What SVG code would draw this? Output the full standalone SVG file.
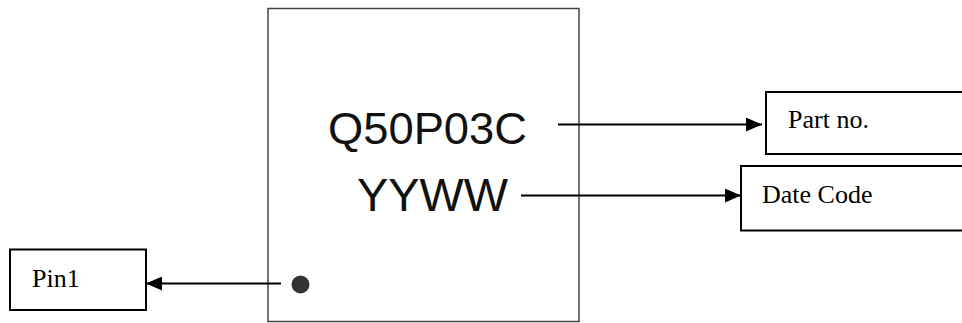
<svg xmlns="http://www.w3.org/2000/svg" width="962" height="323" viewBox="0 0 962 323">
<style>
.box{fill:#fff;stroke:#000;stroke-width:2}
.lbl{font-family:"Liberation Serif","Times New Roman",serif;font-size:26px;fill:#000}
.mark{font-family:"Liberation Sans",Arial,sans-serif;fill:#111}
.conn{stroke:#000;stroke-width:2.2;fill:none}
</style>
<defs>
<marker id="ah" viewBox="0 0 16 14" refX="16" refY="7" markerWidth="16" markerHeight="14" markerUnits="userSpaceOnUse" orient="auto">
<path d="M0,0 L16,7 L0,14 Z" fill="#000"/>
</marker>
</defs>
<rect width="962" height="323" fill="#fff"/>
<g id="chip">
<rect x="268" y="8.5" width="311" height="313" fill="#fff" stroke="#444" stroke-width="1.5"/>
<text class="mark" x="328" y="143.5" font-size="45" textLength="199" lengthAdjust="spacingAndGlyphs">Q50P03C</text>
<text class="mark" x="357" y="210.5" font-size="47" textLength="151" lengthAdjust="spacingAndGlyphs">YYWW</text>
<circle cx="300.5" cy="284.5" r="9" fill="#333"/>
</g>
<g id="part-no">
<rect class="box" x="766" y="92" width="200" height="62"/>
<text class="lbl" x="788" y="128">Part no.</text>
</g>
<g id="date-code">
<rect class="box" x="741" y="166" width="225" height="64.5"/>
<text class="lbl" x="762" y="203">Date Code</text>
</g>
<g id="pin1">
<rect class="box" x="10" y="249.5" width="136" height="60.5"/>
<text class="lbl" x="32" y="287">Pin1</text>
</g>
<g id="connectors">
<line class="conn" x1="558" y1="124.5" x2="762" y2="124.5" marker-end="url(#ah)"/>
<line class="conn" x1="521" y1="195.5" x2="741" y2="195.5" marker-end="url(#ah)"/>
<line class="conn" x1="281" y1="283.5" x2="146" y2="283.5" marker-end="url(#ah)"/>
</g>
</svg>
